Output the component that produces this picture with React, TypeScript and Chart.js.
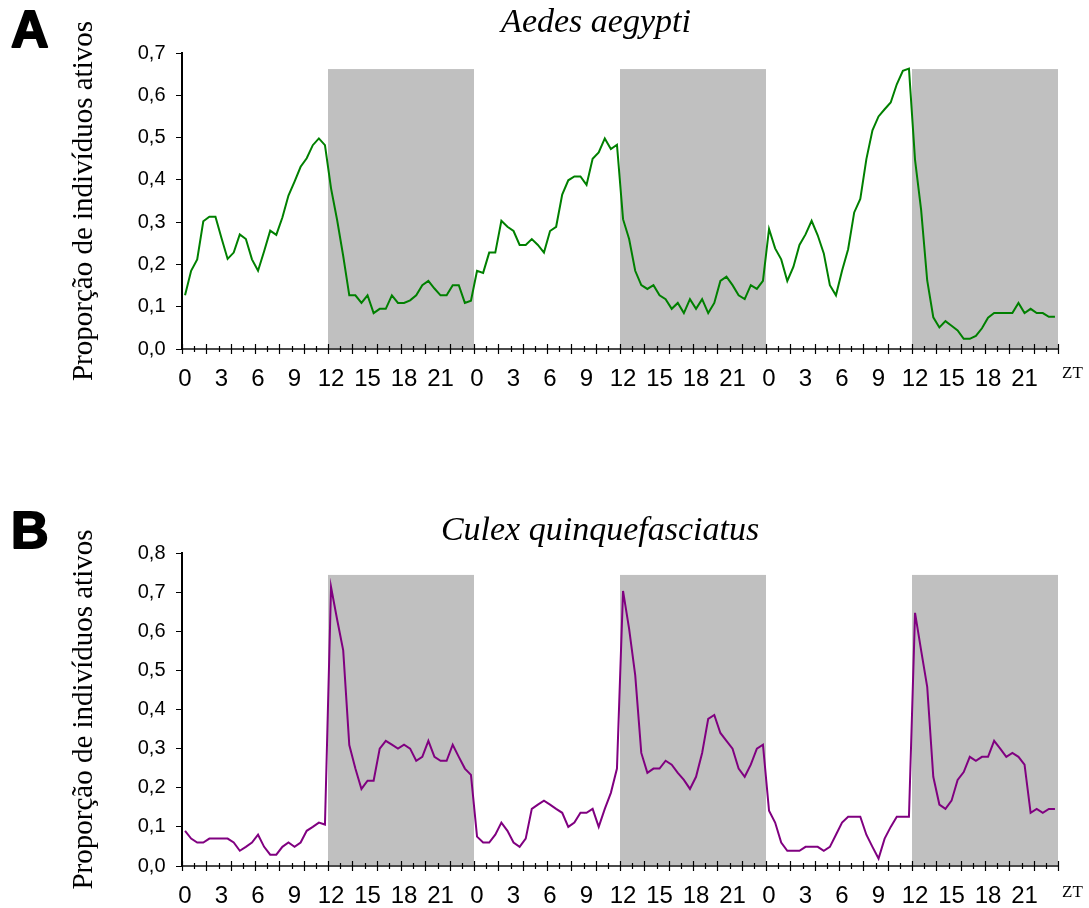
import React, { useEffect, useRef } from 'react';
import { Chart, registerables } from 'chart.js';

Chart.register(...registerables);

// ---- data ----
const SLOTS_PER_HOUR = 2; // half-hour samples
const TOTAL_HOURS = 72;
const ZT_TICK_LABELS = ['0', '3', '6', '9', '12', '15', '18', '21'];
const DARK_PERIODS: [number, number][] = [[12, 24], [36, 48], [60, 72]];
const Y_AXIS_TITLE = 'Proporção de indivíduos ativos';

// Aedes aegypti (panel A), 144 half-hour values over 3 days
const aedesAegypti = [
  0.127, 0.185, 0.212, 0.302, 0.313, 0.313, 0.262, 0.213, 0.228, 0.271, 0.260, 0.212,
  0.185, 0.231, 0.280, 0.270, 0.311, 0.363, 0.396, 0.431, 0.451, 0.482, 0.498, 0.482,
  0.380, 0.305, 0.220, 0.127, 0.127, 0.109, 0.127, 0.085, 0.095, 0.095, 0.127, 0.109,
  0.109, 0.115, 0.127, 0.151, 0.161, 0.143, 0.127, 0.127, 0.151, 0.151, 0.109, 0.114,
  0.185, 0.180, 0.228, 0.228, 0.303, 0.289, 0.279, 0.246, 0.246, 0.260, 0.246, 0.228,
  0.279, 0.289, 0.365, 0.399, 0.408, 0.408, 0.388, 0.450, 0.465, 0.498, 0.473, 0.483,
  0.307, 0.260, 0.185, 0.151, 0.142, 0.151, 0.127, 0.118, 0.095, 0.109, 0.085, 0.118,
  0.095, 0.118, 0.085, 0.109, 0.161, 0.171, 0.151, 0.127, 0.118, 0.151, 0.142, 0.161,
  0.284, 0.238, 0.212, 0.161, 0.194, 0.246, 0.271, 0.303, 0.269, 0.226, 0.151, 0.127,
  0.185, 0.236, 0.323, 0.355, 0.449, 0.517, 0.550, 0.567, 0.583, 0.626, 0.658, 0.663,
  0.447, 0.329, 0.162, 0.075, 0.051, 0.066, 0.055, 0.044, 0.024, 0.024, 0.031, 0.049,
  0.074, 0.085, 0.085, 0.085, 0.085, 0.109, 0.085, 0.095, 0.085, 0.085, 0.076, 0.076,
];

// Culex quinquefasciatus (panel B), 144 half-hour values over 3 days
const culexQuinquefasciatus = [
  0.090, 0.070, 0.060, 0.060, 0.070, 0.070, 0.070, 0.070, 0.060, 0.039, 0.049, 0.060,
  0.080, 0.049, 0.029, 0.029, 0.049, 0.060, 0.049, 0.060, 0.090, 0.100, 0.111, 0.106,
  0.713, 0.630, 0.551, 0.309, 0.249, 0.197, 0.218, 0.218, 0.300, 0.320, 0.310, 0.300,
  0.310, 0.300, 0.269, 0.279, 0.320, 0.279, 0.269, 0.269, 0.310, 0.279, 0.249, 0.233,
  0.075, 0.060, 0.060, 0.080, 0.111, 0.090, 0.060, 0.049, 0.070, 0.146, 0.157, 0.167,
  0.157, 0.146, 0.136, 0.100, 0.111, 0.136, 0.136, 0.146, 0.100, 0.146, 0.187, 0.249,
  0.703, 0.606, 0.488, 0.289, 0.238, 0.249, 0.249, 0.269, 0.259, 0.238, 0.220, 0.197,
  0.228, 0.289, 0.376, 0.386, 0.340, 0.320, 0.300, 0.249, 0.228, 0.259, 0.300, 0.310,
  0.141, 0.111, 0.060, 0.039, 0.039, 0.039, 0.049, 0.049, 0.049, 0.039, 0.049, 0.080,
  0.111, 0.126, 0.126, 0.126, 0.080, 0.049, 0.019, 0.070, 0.100, 0.126, 0.126, 0.126,
  0.647, 0.551, 0.458, 0.228, 0.157, 0.146, 0.167, 0.220, 0.240, 0.279, 0.269, 0.279,
  0.279, 0.320, 0.300, 0.279, 0.289, 0.279, 0.259, 0.136, 0.146, 0.136, 0.146, 0.146,
];

// ---- panel layout / styles ----
const PANELS = [
  {
    letter: 'A', title: 'Aedes aegypti', values: aedesAegypti, color: '#008000',
    yMax: 0.7, bandTop: 0.662,
    top: 0, height: 454, areaTop: 53, areaBottom: 349,
    titleX: 596, titleY: 32, letterY: 47, ztY: 378,
  },
  {
    letter: 'B', title: 'Culex quinquefasciatus', values: culexQuinquefasciatus, color: '#800080',
    yMax: 0.8, bandTop: 0.744,
    top: 454, height: 454, areaTop: 99, areaBottom: 412,
    titleX: 600, titleY: 86, letterY: 94, ztY: 443,
  },
];

const WIDTH = 1089;
const AREA_LEFT = 182;
const AREA_RIGHT = 1058;

const decorPlugin = {
  id: 'panelDecor',
  beforeDraw(chart: any, _a: any, opts: any) {
    const { ctx } = chart;
    const xs = chart.scales.x;
    const ys = chart.scales.y;
    ctx.save();
    ctx.fillStyle = '#c0c0c0';
    const yt = ys.getPixelForValue(opts.bandTop);
    const yb = ys.getPixelForValue(0) - 1;
    for (const [s, e] of DARK_PERIODS) {
      const x0 = xs.getPixelForValue(s);
      const x1 = xs.getPixelForValue(e);
      ctx.fillRect(x0, yt, x1 - x0, yb - yt);
    }
    ctx.restore();
  },
  afterDraw(chart: any, _a: any, opts: any) {
    const { ctx } = chart;
    const xs = chart.scales.x;
    const ys = chart.scales.y;
    const y0 = ys.getPixelForValue(0);
    ctx.save();
    // hourly tick marks crossing the x axis
    ctx.strokeStyle = '#000';
    ctx.lineWidth = 1.2;
    for (let h = 0; h <= TOTAL_HOURS; h++) {
      const x = Math.round(xs.getPixelForValue(h)) + 0.5;
      const up = h % 2 === 0 ? 5 : 3;
      const down = h % 2 === 0 ? 5 : 3;
      ctx.beginPath();
      ctx.moveTo(x, y0 - up);
      ctx.lineTo(x, y0 + down);
      ctx.stroke();
    }
    // panel title
    ctx.fillStyle = '#000';
    ctx.font = 'italic 34px "Liberation Serif", "Times New Roman", serif';
    ctx.textAlign = 'center';
    ctx.textBaseline = 'alphabetic';
    ctx.fillText(opts.title, opts.titleX, opts.titleY);
    // panel letter
    ctx.font = 'bold 52px "Liberation Sans", Arial, sans-serif';
    ctx.textAlign = 'left';
    ctx.lineWidth = 2;
    ctx.strokeStyle = '#000';
    ctx.lineJoin = 'round';
    ctx.fillText(opts.letter, 11, opts.letterY);
    ctx.strokeText(opts.letter, 11, opts.letterY);
    // ZT axis label
    ctx.font = '17px "Liberation Serif", "Times New Roman", serif';
    ctx.fillText('ZT', 1062, opts.ztY);
    ctx.restore();
  },
};

function Panel({ panel }: { panel: typeof PANELS[number] }) {
  const ref = useRef<HTMLCanvasElement | null>(null);
  useEffect(() => {
    if (!ref.current) return;
    const times = panel.values.map((_, i) => (i + 0.5) / SLOTS_PER_HOUR);
    const labelTicks: number[] = [];
    for (let h = 0; h < TOTAL_HOURS; h += 3) labelTicks.push(h + 0.5 / SLOTS_PER_HOUR);
    const chart = new Chart(ref.current, {
      type: 'line',
      data: {
        datasets: [
          {
            data: panel.values.map((v, i) => ({ x: times[i], y: v })),
            borderColor: panel.color,
            borderWidth: 2,
            pointRadius: 0,
            fill: false,
            tension: 0,
          },
        ],
      },
      options: {
        animation: false,
        responsive: false,
        devicePixelRatio: 1,
        layout: {
          padding: { top: panel.areaTop, right: WIDTH - AREA_RIGHT, left: 0, bottom: 0 },
        },
        plugins: {
          legend: { display: false },
          tooltip: { enabled: false },
          panelDecor: {
            title: panel.title,
            titleX: panel.titleX,
            titleY: panel.titleY,
            letter: panel.letter,
            letterY: panel.letterY,
            ztY: panel.ztY,
            bandTop: panel.bandTop,
          },
        } as any,
        scales: {
          x: {
            type: 'linear',
            min: 0,
            max: TOTAL_HOURS,
            grid: { display: false, drawTicks: false },
            border: { display: true, color: '#4a4a4a', width: 2 },
            afterBuildTicks: (s: any) => {
              s.ticks = labelTicks.map((v) => ({ value: v }));
            },
            afterFit: (s: any) => {
              s.height = panel.height - panel.areaBottom;
            },
            ticks: {
              autoSkip: false,
              maxRotation: 0,
              minRotation: 0,
              padding: 15.5,
              color: '#000',
              font: { family: "'Liberation Sans Narrow', 'Liberation Sans', Arial, sans-serif", size: 24 },
              callback: (value: any) => {
                const k = Math.round((Number(value) - 0.5 / SLOTS_PER_HOUR) / 3);
                return ZT_TICK_LABELS[k % ZT_TICK_LABELS.length];
              },
            },
          },
          y: {
            type: 'linear',
            min: 0,
            max: panel.yMax,
            grid: { display: true, drawOnChartArea: false, drawTicks: true, tickLength: 6, color: '#000', lineWidth: 1 },
            border: { display: true, color: '#000', width: 2 },
            afterFit: (s: any) => {
              s.width = AREA_LEFT;
            },
            title: {
              display: true,
              text: Y_AXIS_TITLE,
              color: '#000',
              font: { family: "'Liberation Serif', 'Times New Roman', serif", size: 29, weight: 'normal' },
              padding: { top: 67, bottom: 0 },
            },
            ticks: {
              stepSize: 0.1,
              padding: 10.5,
              color: '#000',
              font: { family: "'Liberation Sans', Arial, sans-serif", size: 20 },
              callback: (value: any) => Number(value).toFixed(1).replace('.', ','),
            },
          },
        },
      },
      plugins: [decorPlugin as any],
    });
    return () => chart.destroy();
  }, [panel]);
  return (
    <div style={{ position: 'absolute', left: 0, top: panel.top, width: WIDTH, height: panel.height }}>
      <canvas ref={ref} width={WIDTH} height={panel.height} style={{ display: 'block' }} />
    </div>
  );
}

export default function App() {
  return (
    <div style={{ position: 'absolute', left: 0, top: 0, width: WIDTH, height: 908, background: '#fff' }}>
      {PANELS.map((p) => (
        <Panel key={p.letter} panel={p} />
      ))}
    </div>
  );
}
